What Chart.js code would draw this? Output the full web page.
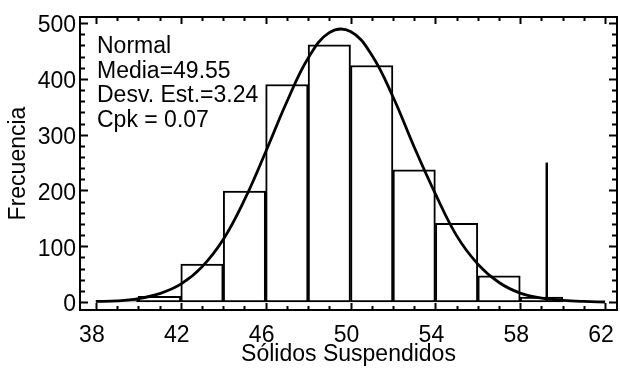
<!DOCTYPE html>
<html>
<head>
<meta charset="utf-8">
<script src="https://cdn.jsdelivr.net/npm/chart.js@4.4.0/dist/chart.umd.min.js"></script>
<style>
  html, body { margin: 0; padding: 0; background: #fff; }
</style>
</head>
<body>
<canvas id="chart" width="620" height="368"></canvas>
<script>
// tick labels
var xTicks = [38, 42, 46, 50, 54, 58, 62];
var yTicks = [0, 100, 200, 300, 400, 500];

// histogram: bin centres (width 2) and counts
var binCenters = [39, 41, 43, 45, 47, 49, 51, 53, 55, 57, 59];
var frecuencia = [3, 10, 68, 199, 390, 461, 424, 237, 141, 47, 9];

// fitted normal curve
var curveX = [38, 39, 40, 41, 42, 43, 44, 45, 46, 47, 48, 49, 50, 51, 52, 53, 54, 55, 56, 57, 58, 59, 60, 61, 62];
var curveY = [1, 2, 6, 15, 32, 63, 112, 183, 269, 359, 437, 483, 485, 443, 368, 278, 194, 119, 68, 35, 16, 7, 3, 1, 0];

// spec limit line
var limitX = [59.25, 59.25];
var limitY = [0, 250];

var stats = ['Normal', 'Media=49.55', 'Desv. Est.=3.24', 'Cpk = 0.07'];

var FONT = '"Liberation Sans", Arial, sans-serif';
var FSIZE = 23;

function xy(xs, ys) {
    return xs.map(function (v, i) { return { x: v, y: ys[i] }; });
}

// box, inward tick marks and the stats text
var framePlugin = {
    id: 'frame',
    afterDatasetsDraw: function (chart) {
        var ctx = chart.ctx;
        var a = chart.chartArea;
        var sx = chart.scales.x;
        var sy = chart.scales.y;
        ctx.save();
        ctx.strokeStyle = '#000';
        ctx.lineWidth = 2;
        ctx.strokeRect(a.left, a.top, a.right - a.left, a.bottom - a.top);

        ctx.beginPath();
        for (var v = xTicks[0]; v <= xTicks[xTicks.length - 1]; v++) {
            var px = Math.round(sx.getPixelForValue(v)) + 0.5;
            var len = xTicks.indexOf(v) >= 0 ? 7 : 4;
            ctx.moveTo(px, a.bottom); ctx.lineTo(px, a.bottom - len);
            ctx.moveTo(px, a.top); ctx.lineTo(px, a.top + len);
        }
        for (var w = yTicks[0]; w <= yTicks[yTicks.length - 1]; w += 20) {
            var py = Math.round(sy.getPixelForValue(w)) + 0.5;
            var l = yTicks.indexOf(w) >= 0 ? 8 : 5;
            ctx.moveTo(a.left, py); ctx.lineTo(a.left + l, py);
            ctx.moveTo(a.right, py); ctx.lineTo(a.right - l, py);
        }
        ctx.stroke();

        ctx.fillStyle = '#000';
        ctx.font = FSIZE + 'px ' + FONT;
        ctx.textAlign = 'left';
        ctx.textBaseline = 'alphabetic';
        stats.forEach(function (s, i) {
            ctx.fillText(s, 97, 53 + i * 24.7);
        });
        ctx.restore();
    }
};

new Chart(document.getElementById('chart').getContext('2d'), {
    type: 'bar',
    data: {
        datasets: [
            {
                type: 'line',
                data: xy(curveX, curveY),
                borderColor: '#000',
                borderWidth: 2.8,
                pointRadius: 0,
                tension: 0.4,
                fill: false,
                order: 1
            },
            {
                type: 'line',
                data: xy(limitX, limitY),
                borderColor: '#000',
                borderWidth: 2.5,
                pointRadius: 0,
                fill: false,
                order: 1
            },
            {
                type: 'bar',
                data: xy(binCenters, frecuencia),
                backgroundColor: '#fff',
                borderColor: '#000',
                borderWidth: 2,
                borderSkipped: false,
                barPercentage: 1,
                categoryPercentage: 1,
                order: 2
            }
        ]
    },
    options: {
        responsive: false,
        animation: false,
        devicePixelRatio: 1,
        layout: { padding: { left: 0, right: 3, top: 17, bottom: 0 } },
        plugins: {
            legend: { display: false },
            tooltip: { enabled: false }
        },
        scales: {
            x: {
                type: 'linear',
                min: 37.25,
                max: 62.56,
                offset: false,
                grid: { display: false, drawTicks: false },
                border: { display: false },
                afterBuildTicks: function (s) { s.ticks = xTicks.map(function (v) { return { value: v }; }); },
                afterFit: function (s) { s.height = 58; s.paddingLeft = 0; s.paddingRight = 0; },
                ticks: { color: '#000', font: { family: FONT, size: FSIZE }, padding: 12, labelOffset: -4, maxRotation: 0 },
                title: { display: true, text: 'Sólidos Suspendidos', color: '#000', font: { family: FONT, size: FSIZE }, padding: { top: 0, bottom: 0 } }
            },
            y: {
                min: -14.3,
                max: 511,
                grid: { display: false, drawTicks: false },
                border: { display: false },
                afterBuildTicks: function (s) { s.ticks = yTicks.map(function (v) { return { value: v }; }); },
                afterFit: function (s) { s.width = 80; s.paddingTop = 0; s.paddingBottom = 0; },
                ticks: { color: '#000', font: { family: FONT, size: FSIZE }, padding: 4, labelOffset: 3 },
                title: { display: true, text: 'Frecuencia', color: '#000', font: { family: FONT, size: FSIZE }, padding: { top: 5, bottom: 0 } }
            }
        }
    },
    plugins: [framePlugin]
});
</script>
</body>
</html>
